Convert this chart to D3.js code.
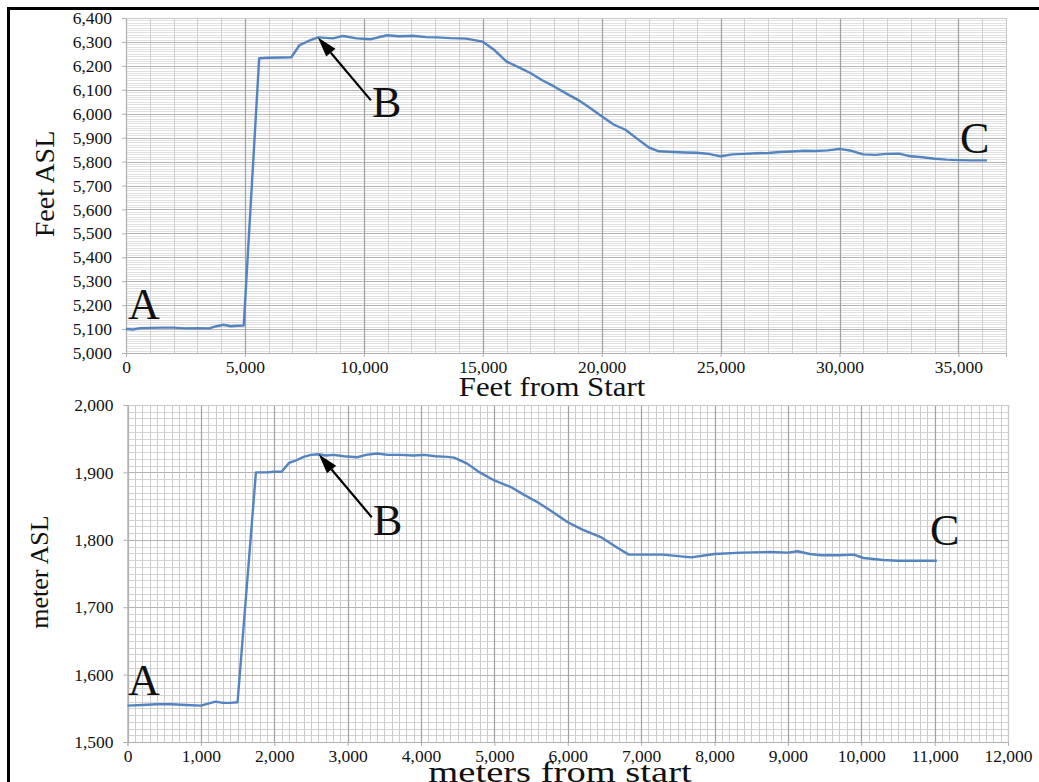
<!DOCTYPE html>
<html>
<head>
<meta charset="utf-8">
<title>Elevation profile</title>
<script src="https://cdn.jsdelivr.net/npm/d3@7"></script>
<style>
  body { margin: 0; background: #fff; }
  text { font-family: "Liberation Serif", "Times New Roman", serif; fill: #111; }
</style>
</head>
<body>
<svg id="chart" width="1039" height="782"></svg>
<script>
// top panel: distance in feet, elevation in feet ASL
var feetDist = [0, 300, 600, 1000, 1500, 2000, 2500, 3000, 3500, 3800, 4100, 4400, 4700, 4950,
  5600, 6000, 6500, 6950, 7300, 7700, 8070, 8700, 9130, 9700, 10270, 10970, 11500, 12080, 12600,
  13070, 13630, 14300, 15000, 15500, 16000, 16500, 17000, 17500, 18000, 18500, 19000, 19500, 20000,
  20500, 21000, 21500, 22000, 22400, 23000, 23500, 24000, 24500, 25000, 25500, 26000, 26500, 27000,
  27500, 28000, 28500, 29000, 29500, 30000, 30500, 31000, 31500, 32000, 32500, 33000, 33500, 34000,
  34500, 35000, 35500, 36200];
var feetElev = [5100, 5098, 5104, 5105, 5106, 5106, 5103, 5104, 5103, 5112, 5118, 5112, 5114, 5115,
  6232, 6234, 6235, 6236, 6287, 6305, 6319, 6315, 6325, 6315, 6311, 6328, 6324, 6326, 6320,
  6319, 6316, 6314, 6301, 6265, 6218, 6195, 6170, 6140, 6114, 6085, 6058, 6025, 5989,
  5955, 5933, 5895, 5858, 5843, 5840, 5838, 5837, 5832, 5822, 5830, 5832, 5835, 5836,
  5840, 5842, 5845, 5844, 5847, 5853, 5845, 5830, 5828, 5832, 5833, 5822, 5818, 5812,
  5808, 5806, 5805, 5805];

// bottom panel: same trail in meters
var meterDist = [0, 200, 400, 600, 800, 1000, 1100, 1200, 1300, 1400, 1500, 1750, 1900, 2000, 2100,
  2200, 2300, 2400, 2500, 2606, 2700, 2810, 2950, 3130, 3250, 3400, 3550, 3720, 3900, 4040, 4200,
  4360, 4450, 4630, 4800, 5000, 5230, 5400, 5600, 5800, 6000, 6200, 6450, 6650, 6830, 7000, 7300,
  7680, 8000, 8370, 8770, 9000, 9130, 9300, 9450, 9700, 9900, 10030, 10300, 10500, 11030];
var meterElev = [1554, 1555, 1556, 1556, 1555, 1554, 1557, 1560, 1558, 1558, 1559, 1900, 1900, 1901, 1901,
  1914, 1918, 1923, 1926, 1927, 1925, 1926, 1924, 1922.5, 1926, 1928, 1926, 1926, 1925, 1926, 1924,
  1923, 1922, 1913, 1900, 1888, 1878, 1867, 1855, 1841, 1826, 1815, 1804, 1790, 1778, 1778, 1778,
  1774, 1779, 1781, 1782, 1781, 1783, 1779, 1777, 1777, 1778, 1773, 1770, 1769, 1769];

var pointLabels = ["A", "B", "C"];

var svg = d3.select("#chart");
var blue = "#5384c0";

// outer frame of the figure
svg.append("rect")
  .attr("x", 8.5).attr("y", 8.5)
  .attr("width", 1040).attr("height", 800)
  .attr("fill", "none").attr("stroke", "#000").attr("stroke-width", 3);

function panel(opt) {
  var x = d3.scaleLinear().domain(opt.xDomain).range([opt.left, opt.right]);
  var y = d3.scaleLinear().domain(opt.yDomain).range([opt.bottom, opt.top]);
  var g = svg.append("g");

  // minor horizontal grid
  g.selectAll(".hminor").data(d3.range(opt.yDomain[0], opt.yDomain[1], opt.yMinor))
    .join("line")
    .attr("x1", opt.left).attr("x2", opt.right)
    .attr("y1", d => Math.round(y(d)) + 0.5).attr("y2", d => Math.round(y(d)) + 0.5)
    .attr("stroke", opt.minorColor).attr("stroke-width", 1);
  // minor vertical grid
  g.selectAll(".vminor").data(d3.range(opt.xDomain[0], opt.xDomain[1], opt.xMinor))
    .join("line")
    .attr("y1", opt.top).attr("y2", opt.bottom)
    .attr("x1", d => Math.round(x(d)) + 0.5).attr("x2", d => Math.round(x(d)) + 0.5)
    .attr("stroke", opt.vMinorColor).attr("stroke-width", 1);
  // major grid
  g.selectAll(".hmajor").data(d3.range(opt.yDomain[0], opt.yDomain[1] + 1, opt.yMajor))
    .join("line")
    .attr("x1", opt.left).attr("x2", opt.right)
    .attr("y1", d => Math.round(y(d)) + 0.5).attr("y2", d => Math.round(y(d)) + 0.5)
    .attr("stroke", "#b4b4b4").attr("stroke-width", 1);
  g.selectAll(".vmajor").data(d3.range(opt.xDomain[0], opt.xDomain[1] + 1, opt.xMajor))
    .join("line")
    .attr("y1", opt.top).attr("y2", opt.bottom)
    .attr("x1", d => Math.round(x(d)) + 0.5).attr("x2", d => Math.round(x(d)) + 0.5)
    .attr("stroke", "#a0a0a0").attr("stroke-width", 1.2);

  g.append("rect")
    .attr("x", opt.left + 0.5).attr("y", opt.top + 0.5)
    .attr("width", opt.right - opt.left).attr("height", opt.bottom - opt.top)
    .attr("fill", "none").attr("stroke", "#c8c8c8");

  // axes
  var fmt = d3.format(",");
  var xAxis = d3.axisBottom(x).tickValues(d3.range(opt.xDomain[0], opt.xDomain[1] + 1, opt.xLabelStep))
    .tickFormat(fmt).tickSize(4).tickPadding(4);
  var yAxis = d3.axisLeft(y).tickValues(d3.range(opt.yDomain[0], opt.yDomain[1] + 1, opt.yMajor))
    .tickFormat(fmt).tickSize(4).tickPadding(10);
  var xa = g.append("g").attr("transform", "translate(0," + opt.bottom + ")").call(xAxis);
  var ya = g.append("g").attr("transform", "translate(" + opt.left + ",0)").call(yAxis);
  [xa, ya].forEach(function (a) {
    a.select(".domain").attr("stroke", "#b0b0b0");
    a.selectAll(".tick line").attr("stroke", "#b0b0b0");
    a.selectAll(".tick text").attr("fill", "#1a1a1a").style("font-size", "17.5px")
      .style("font-family", "'Liberation Serif', serif");
  });

  // profile line
  var line = d3.line().x(d => x(d[0])).y(d => y(d[1]));
  g.append("path")
    .datum(d3.zip(opt.xs, opt.ys))
    .attr("d", line)
    .attr("fill", "none").attr("stroke", blue).attr("stroke-width", 2.4)
    .attr("stroke-linejoin", "round");

  // axis titles (the source figure is stretched a bit sideways)
  g.append("text")
    .attr("transform", "translate(" + opt.xTitlePos[0] + "," + opt.xTitlePos[1] + ") scale(" + opt.xTitleStretch + ",1)")
    .attr("text-anchor", "middle").style("font-size", opt.xTitleSize + "px")
    .text(opt.xTitle);
  g.append("text")
    .attr("transform", "translate(" + opt.yTitlePos[0] + "," + opt.yTitlePos[1] + ") rotate(-90)")
    .attr("text-anchor", "middle").style("font-size", opt.yTitleSize + "px")
    .text(opt.yTitle);

  // A, B, C markers
  opt.letters.forEach(function (p, i) {
    g.append("text").attr("x", p[0]).attr("y", p[1])
      .style("font-size", "44px").text(pointLabels[i]);
  });

  // arrow to point B
  var tip = [x(opt.peak[0]), y(opt.peak[1])];
  var tail = [tip[0] + 53, tip[1] + 63];
  var ang = Math.atan2(tail[1] - tip[1], tail[0] - tip[0]);
  var len = 20, half = 6;
  var bx = tip[0] + Math.cos(ang) * len, by = tip[1] + Math.sin(ang) * len;
  g.append("line")
    .attr("x1", bx).attr("y1", by).attr("x2", tail[0]).attr("y2", tail[1])
    .attr("stroke", "#000").attr("stroke-width", 2.2);
  g.append("path")
    .attr("d", "M" + tip[0] + "," + tip[1] +
      "L" + (bx - Math.sin(ang) * half) + "," + (by + Math.cos(ang) * half) +
      "L" + (bx + Math.sin(ang) * half) + "," + (by - Math.cos(ang) * half) + "Z")
    .attr("fill", "#000");
}

panel({
  xDomain: [0, 37000], yDomain: [5000, 6400],
  left: 126, right: 1006, top: 18, bottom: 353,
  xMinor: 1000, xMajor: 5000, xLabelStep: 5000,
  yMinor: 10, yMajor: 100,
  minorColor: "#e0e0e0", vMinorColor: "#cfcfcf",
  xs: feetDist, ys: feetElev,
  xTitle: "Feet from Start", yTitle: "Feet ASL",
  xTitlePos: [552, 396], yTitlePos: [54, 184],
  xTitleSize: 28, xTitleStretch: 1.1, yTitleSize: 28,
  letters: [[128, 319], [372, 117], [960, 153]],
  peak: [8070, 6319]
});

panel({
  xDomain: [0, 12000], yDomain: [1500, 2000],
  left: 127.5, right: 1008, top: 405, bottom: 742,
  xMinor: 100, xMajor: 1000, xLabelStep: 1000,
  yMinor: 10, yMajor: 100,
  minorColor: "#d4d4d4", vMinorColor: "#cccccc",
  xs: meterDist, ys: meterElev,
  xTitle: "meters from start", yTitle: "meter ASL",
  xTitlePos: [560, 782], yTitlePos: [48, 572],
  xTitleSize: 29, xTitleStretch: 1.33, yTitleSize: 26,
  letters: [[128, 695], [373, 535], [930, 545]],
  peak: [2606, 1927]
});
</script>
</body>
</html>
